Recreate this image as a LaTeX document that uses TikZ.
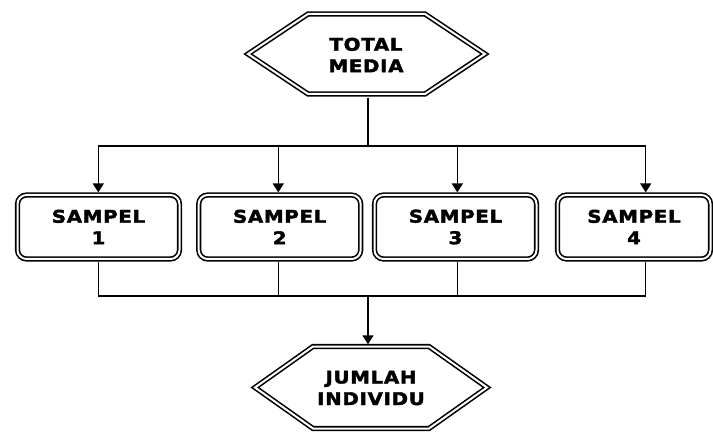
\documentclass[tikz,border=0pt]{standalone}
\usepackage{fontspec}
\newfontfamily\lblfont{DejaVu Sans}[FakeStretch=1.13,LetterSpace=4,FakeBold=2.2]
\usetikzlibrary{arrows.meta,calc}
\tikzset{
  lbl/.style={align=center,font=\lblfont\bfseries\fontsize{17.5}{21.5}\selectfont,inner sep=0pt},
  dbl/.style={draw=black,double=white,double distance=2pt,line width=1.6pt,line join=miter},
  sbox/.style={lbl,dbl,rounded corners=9pt,minimum width=162pt,minimum height=64pt,outer sep=2.6pt},
  conn/.style={line width=1.5pt},
  arr/.style={conn,-{Triangle[length=9pt,width=11pt]}}
}
\begin{document}
\begin{tikzpicture}[x=1pt,y=-1pt]
\useasboundingbox (0,0) rectangle (713,433);
% nodes
\node[lbl,minimum height=85pt] (tm) at (366,55) {TOTAL\\MEDIA};
\node[sbox] (b1) at (98.5,227) {SAMPEL\\1};
\node[sbox] (b2) at (279.7,227) {SAMPEL\\2};
\node[sbox] (b3) at (455.5,227) {SAMPEL\\3};
\node[sbox,minimum width=153pt] (b4) at (634,227) {SAMPEL\\4};
\node[lbl,minimum height=87pt] (ji) at (371,388) {JUMLAH\\INDIVIDU};
% hexagons
\draw[dbl] ($(tm)+(-118,-1)$) -- ($(tm)+(-58,-41)$) -- ($(tm)+(59,-41)$) -- ($(tm)+(119,-1)$) -- ($(tm)+(59,39)$) -- ($(tm)+(-58,39)$) -- cycle;
\draw[dbl] ($(ji)+(-116,-0.5)$) -- ($(ji)+(-58,-41.5)$) -- ($(ji)+(58,-41.5)$) -- ($(ji)+(116,-0.5)$) -- ($(ji)+(58,40.5)$) -- ($(ji)+(-58,40.5)$) -- cycle;
% coordinates
\coordinate (t0) at (368,146);
\coordinate (h1) at (98.3,146);
\coordinate (h2) at (278.3,146);
\coordinate (h3) at (457.3,146);
\coordinate (h4) at (645.7,146);
\coordinate (l1) at (98.3,296);
\coordinate (l2) at (278.3,296);
\coordinate (l3) at (457.3,296);
\coordinate (l4) at (645.7,296);
\coordinate (m0) at (368,296);
% connectors
\draw[conn] (t0 |- tm.south) -- (t0);
\draw[conn] (h1) -- (h4);
\draw[arr] (h1) -- (h1 |- b1.north);
\draw[arr] (h2) -- (h2 |- b2.north);
\draw[arr] (h3) -- (h3 |- b3.north);
\draw[arr] (h4) -- (h4 |- b4.north);
\draw[conn] (l1 |- b1.south) -- (l1);
\draw[conn] (l2 |- b2.south) -- (l2);
\draw[conn] (l3 |- b3.south) -- (l3);
\draw[conn] (l4 |- b4.south) -- (l4);
\draw[conn] (l1) -- (l4);
\draw[arr] (m0) -- (m0 |- ji.north);
\end{tikzpicture}
\end{document}
